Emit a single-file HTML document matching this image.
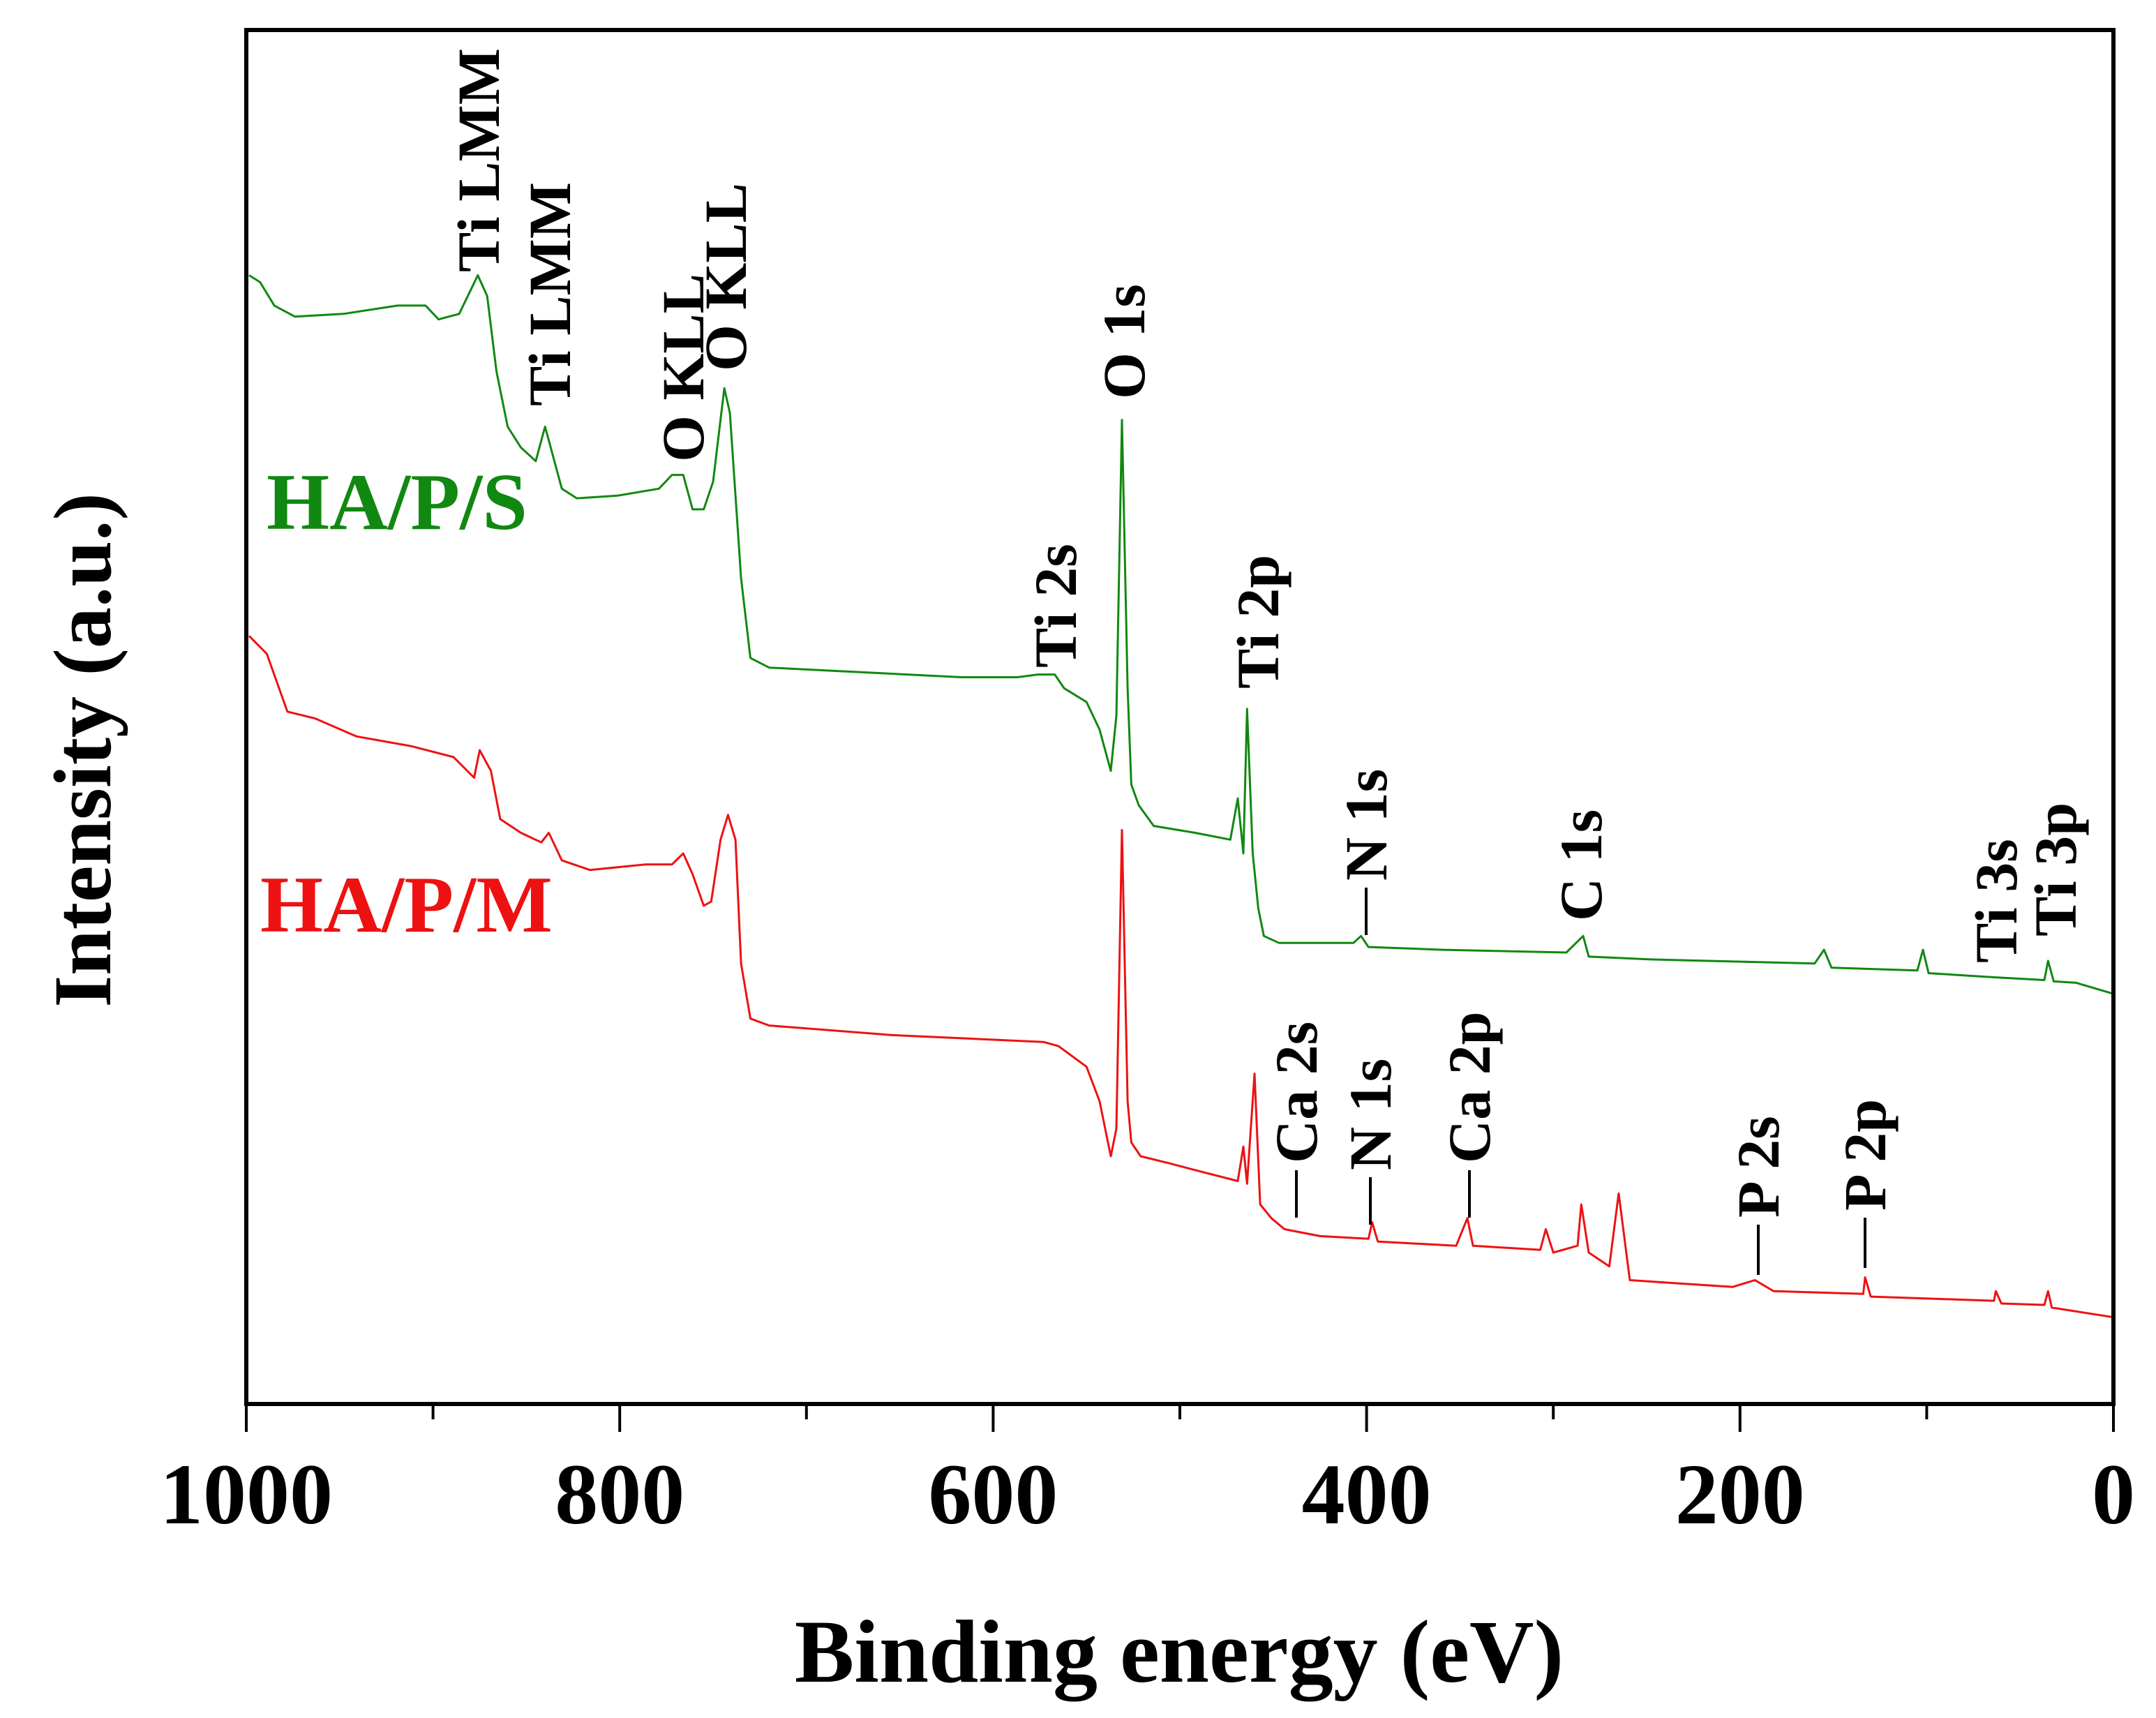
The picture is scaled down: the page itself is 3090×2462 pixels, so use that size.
<!DOCTYPE html>
<html><head><meta charset="utf-8"><style>
html,body{margin:0;padding:0;background:#fff;}
svg{display:block;font-family:"Liberation Serif",serif;font-weight:bold;}
</style></head><body>
<svg id="chart" width="3090" height="2462" viewBox="0 0 3090 2462" xmlns="http://www.w3.org/2000/svg">
<g id="plot"></g>
</svg>
<script>
// Binding energy (eV) and intensity (a.u.)
const greenE = [998.5,992.6,985,974,948,919,904,897,886,876,871,866,860,853,845,840,836,831,823,801,779,772,766,761,755,750,744,741,735,730,720,690,617,587,576,567,562,550,543,537,534,531,528,526,522,514,492,473,469,466,464,461,458,455,447,433,407,403,399,359,293,284,281,248,160,155,151,105,102,99,64,37,35,32,20,0];
const greenI = [820,815,798,790,792,798,798,788,792,820,805,750,710,695,685,710,690,665,658,660,665,675,675,650,650,670,738,720,600,542,535,533,528,528,530,530,520,510,490,460,500,715,520,450,435,420,415,410,440,400,505,400,360,340,335,335,335,340,332,330,328,340,325,323,320,330,317,315,330,313,310,308,322,307,306,298];
const redE = [998.5,989,978,963,941,912,889,878,875,869,864,853,842,838,831,816,786,772,766,761,755,751,746,742,738,735,730,720,654,573,565,550,543,537,534,531,528,526,521,506,492,469,466,464,460,457,451,444,425,399,397,394,352,346,343,307,304,300,287,285,281,270,265,259,204,192,182,134,133,130,64,63,60,37,35,33,0];
const redI = [558,545,503,498,485,478,470,455,475,460,425,415,408,415,395,388,392,392,400,385,362,365,410,428,410,320,280,275,268,263,260,245,220,180,200,417,220,190,180,175,170,162,187,160,240,145,135,127,122,120,132,118,115,135,115,112,127,110,115,145,110,100,153,90,85,90,82,80,92,78,75,82,73,72,82,70,63];
// axis ticks
const majorTicks = [1000,800,600,400,200,0];
const minorTicks = [900,700,500,300,100];
const tickLabels = ["1000","800","600","400","200","0"];

const NS="http://www.w3.org/2000/svg";
const plot=document.getElementById('plot');
const L=353,R=3029,T=43,B=2012;
const xs=e=>L+(1000-e)/1000*(R-L);
const ys=i=>B-i*1.9725;
function mk(tag,attrs,parent){const el=document.createElementNS(NS,tag);for(const k in attrs)el.setAttribute(k,attrs[k]);(parent||plot).appendChild(el);return el;}

function series(E,I,color,name){
  const d=E.map((e,k)=>(k?'L':'M')+xs(e).toFixed(1)+','+ys(I[k]).toFixed(1)).join('');
  const p=mk('path',{d:d,fill:'none',stroke:color,'stroke-width':3,'stroke-linejoin':'round'});
  
  
}
series(greenE,greenI,'#118811','series-ha-p-s');
series(redE,redI,'#ee1111','series-ha-p-m');

// frame
const fr=mk('rect',{x:L,y:T,width:R-L,height:B-T,fill:'none',stroke:'#000','stroke-width':6});



majorTicks.forEach((t,k)=>{
  const tk=mk('line',{x1:xs(t),x2:xs(t),y1:B,y2:B+40,stroke:'#000','stroke-width':4});
  
  
  const lb=mk('text',{x:xs(t),y:2183,'text-anchor':'middle','font-size':124});
  lb.textContent=tickLabels[k];
  
  
});
minorTicks.forEach(t=>{
  const tk=mk('line',{x1:xs(t),x2:xs(t),y1:B,y2:B+22,stroke:'#000','stroke-width':4});
  
  
});

// peak annotations: [text, centerX, bottomY, lineTop, lineBottom]
const annText=["Ti LMM","Ti LMM","O KLL","O KLL","O 1s","Ti 2s","Ti 2p","N 1s","C 1s","Ti 3s","Ti 3p","Ca 2s","N 1s","Ca 2p","P 2s","P 2p"];
const annX=[686,788,979,1040,1611,1513,1803,1958,2266,2861,2946,1858,1964,2106,2520,2673];
const annY=[390,582,662,532,572,957,987,1262,1320,1380,1342,1667,1677,1667,1745,1735];
const annLine=[0,0,0,0,0,0,0,1,0,0,0,1,1,1,1,1];
annText.forEach((s,k)=>{
  const t=mk('text',{transform:`translate(${annX[k]+29},${annY[k]}) rotate(-90)`,'font-size':86});
  t.textContent=s;
  
  
  if(annLine[k]){
    const ln=mk('line',{x1:annX[k],x2:annX[k],y1:annY[k]+10,y2:annY[k]+(k>=14?82:78),stroke:'#000','stroke-width':4});
    
    
  }
});

const lg1=mk('text',{x:382,y:758,'font-size':116,fill:'#118811'});lg1.textContent='HA/P/S';


const lg2=mk('text',{x:373,y:1335,'font-size':116,fill:'#ee1111'});lg2.textContent='HA/P/M';



const xt=mk('text',{x:1690,y:2410,'text-anchor':'middle','font-size':128});xt.textContent='Binding energy (eV)';


const yt=mk('text',{transform:'translate(158,1075) rotate(-90)','text-anchor':'middle','font-size':118});yt.textContent='Intensity (a.u.)';


</script>
</body></html>
